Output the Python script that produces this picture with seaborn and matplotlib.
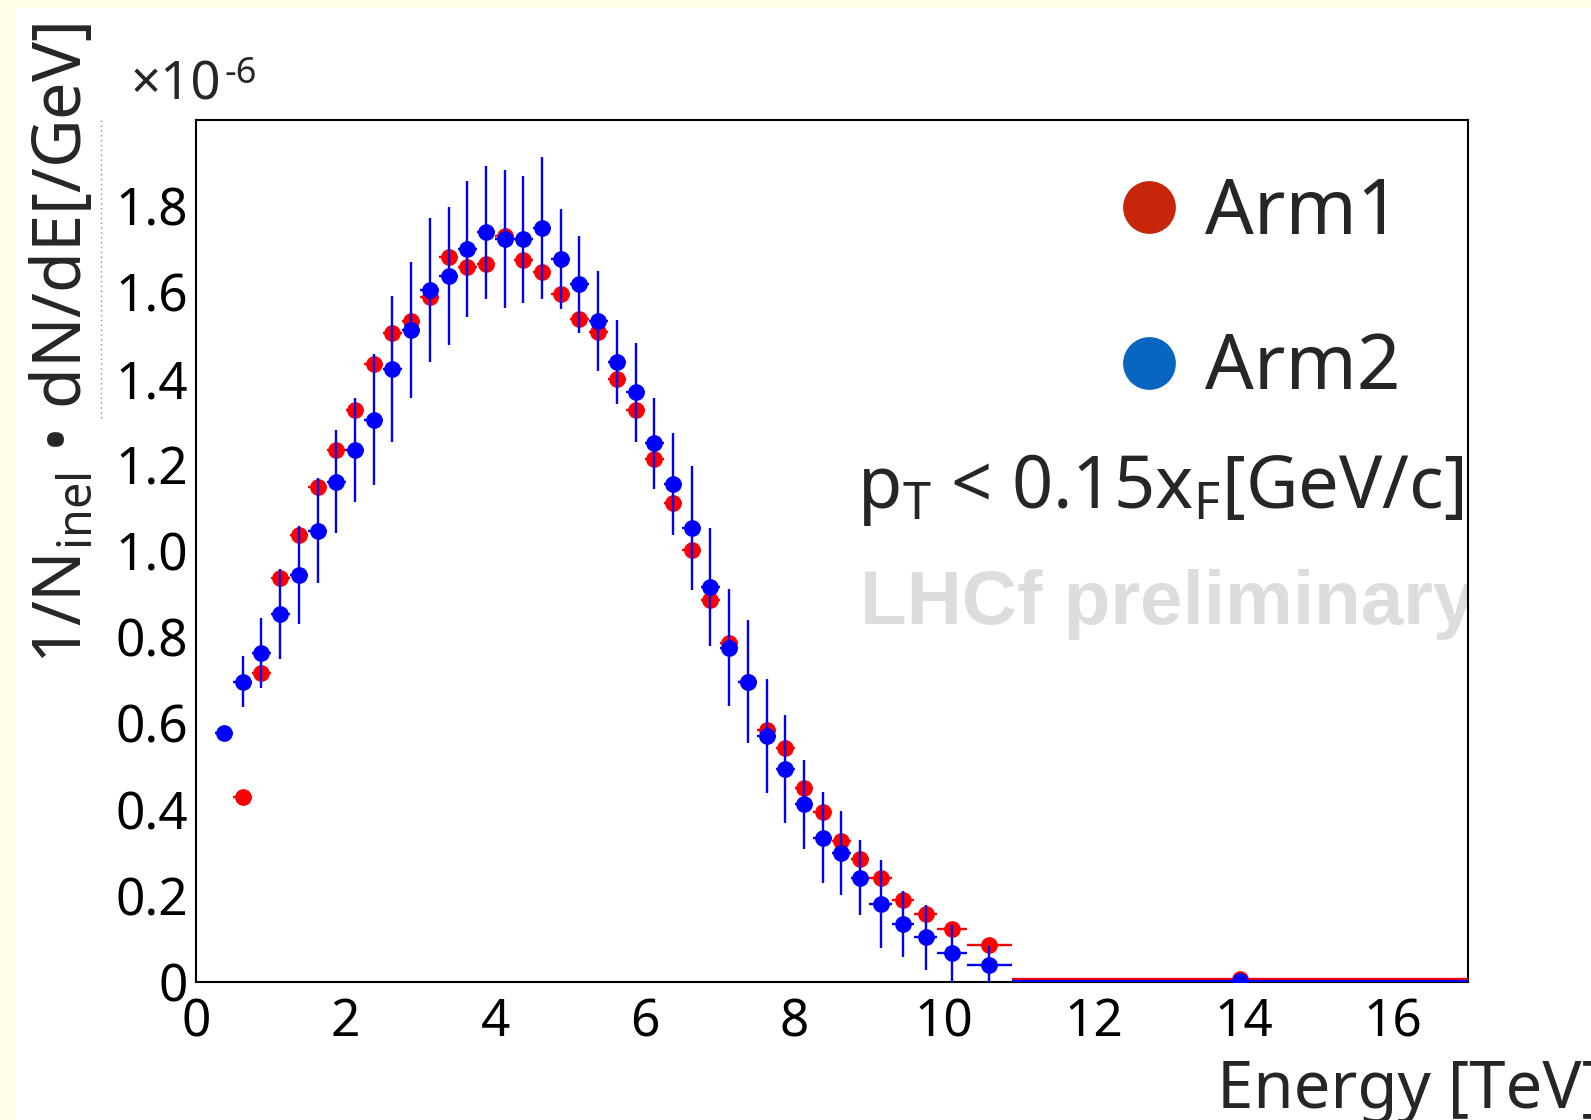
from __future__ import annotations

import matplotlib

matplotlib.use("Agg")

import matplotlib.pyplot as plt
import pandas as pd
import seaborn as sns
from matplotlib.lines import Line2D
from matplotlib.patches import Rectangle
from matplotlib.ticker import FixedLocator, FuncFormatter, MultipleLocator

# Bin edges [TeV], shared by both arms (Arm1 starts one bin later)
BIN_EDGES = [
    0.25, 0.5, 0.75, 1.0, 1.25, 1.5, 1.75, 2.0, 2.25, 2.5, 2.75, 3.0,
    3.25, 3.5, 3.75, 4.0, 4.25, 4.5, 4.75, 5.0, 5.25, 5.5, 5.75, 6.0,
    6.25, 6.5, 6.75, 7.0, 7.25, 7.5, 7.75, 8.0, 8.25, 8.5, 8.75, 9.0,
    9.3, 9.6, 9.9, 10.3, 10.9, 17.0,
]

# 1/N_inel dN/dE in units of 1e-6 /GeV
ARM1_VALUES = [
    0.429, 0.717, 0.937, 1.036, 1.149, 1.235, 1.328, 1.435, 1.506, 1.534,
    1.590, 1.681, 1.660, 1.667, 1.731, 1.675, 1.648, 1.596, 1.538, 1.507,
    1.399, 1.327, 1.213, 1.112, 1.002, 0.886, 0.786, 0.695, 0.585, 0.542,
    0.451, 0.394, 0.327, 0.285, 0.241, 0.190, 0.157, 0.122, 0.086, 0.008,
]
ARM1_ERRORS = [0.01] * 39 + [0.0]

ARM2_VALUES = [
    0.578, 0.697, 0.763, 0.854, 0.944, 1.047, 1.161, 1.234, 1.305, 1.423,
    1.513, 1.606, 1.638, 1.701, 1.739, 1.723, 1.723, 1.749, 1.677, 1.619,
    1.534, 1.439, 1.368, 1.250, 1.155, 1.054, 0.917, 0.776, 0.697, 0.571,
    0.494, 0.412, 0.335, 0.299, 0.242, 0.181, 0.135, 0.104, 0.067, 0.039,
    0.002,
]
ARM2_ERRORS = [
    0.010, 0.060, 0.081, 0.104, 0.113, 0.122, 0.119, 0.121, 0.152, 0.169,
    0.158, 0.167, 0.160, 0.157, 0.154, 0.160, 0.147, 0.164, 0.116, 0.113,
    0.116, 0.097, 0.115, 0.106, 0.118, 0.144, 0.137, 0.136, 0.143, 0.133,
    0.126, 0.104, 0.106, 0.097, 0.087, 0.102, 0.076, 0.075, 0.066, 0.045,
    0.0,
]

Y_TICKS = [0.0, 0.2, 0.4, 0.6, 0.8, 1.0, 1.2, 1.4, 1.6, 1.8]

W, H = 1591, 1120


def build_frame() -> pd.DataFrame:
    rows = []
    series = [
        ("Arm1", BIN_EDGES[1:], ARM1_VALUES, ARM1_ERRORS),
        ("Arm2", BIN_EDGES, ARM2_VALUES, ARM2_ERRORS),
    ]
    for arm, edges, values, errors in series:
        for lo, hi, value, err in zip(edges[:-1], edges[1:], values, errors):
            rows.append(
                {
                    "arm": arm,
                    "energy": 0.5 * (lo + hi),
                    "xerr": 0.5 * (hi - lo),
                    "value": value,
                    "err": err,
                }
            )
    return pd.DataFrame(rows)


def fx(px: float) -> float:
    return px / W


def fy(py: float) -> float:
    return 1 - py / H


def main() -> None:
    data = build_frame()

    sns.set_theme(style="white")
    plt.rcParams["font.family"] = ["Noto Sans", "DejaVu Sans"]
    plt.rcParams["mathtext.fontset"] = "custom"
    plt.rcParams["mathtext.rm"] = "Noto Sans"

    fig = plt.figure(figsize=(W / 100, H / 100), dpi=100, facecolor="#FFFDE6")
    fig.add_artist(
        Rectangle((fx(16), 0), 1, fy(8), transform=fig.transFigure,
                  facecolor="white", edgecolor="none", zorder=-10)
    )
    fig.add_artist(
        Line2D([fx(101), fx(101)], [fy(120), fy(418)], transform=fig.transFigure,
               color="#8a8a8a", linewidth=1.0, linestyle=(0, (1, 2.5)))
    )

    axis = fig.add_axes([fx(196), fy(982), fx(1468) - fx(196), fy(120) - fy(982)])
    axis.set_facecolor("white")

    colors = {"Arm1": "#FF0000", "Arm2": "#0000FF"}
    for zorder, arm in enumerate(["Arm1", "Arm2"]):
        part = data[data["arm"] == arm]
        axis.errorbar(
            part["energy"], part["value"], xerr=part["xerr"], yerr=part["err"],
            fmt="none", ecolor=colors[arm], elinewidth=1.7, capsize=0,
            zorder=3 + 2 * zorder,
        )
        sns.scatterplot(
            data=part, x="energy", y="value", color=colors[arm], s=145,
            linewidth=0, legend=False, ax=axis, zorder=4 + 2 * zorder,
        )

    axis.set_xlim(0, 17)
    axis.set_ylim(0, 2.0)
    axis.set_xlabel("")
    axis.set_ylabel("")
    axis.xaxis.set_major_locator(MultipleLocator(2))
    axis.xaxis.set_minor_locator(MultipleLocator(0.5))
    axis.yaxis.set_major_locator(FixedLocator(Y_TICKS))
    axis.yaxis.set_minor_locator(MultipleLocator(0.05))
    axis.yaxis.set_major_formatter(
        FuncFormatter(lambda v, _: "0" if abs(v) < 1e-9 else f"{v:.1f}")
    )
    axis.tick_params(which="both", direction="in", top=False, right=False,
                     color="black", width=1.4, labelsize=37, labelcolor="black")
    axis.tick_params(axis="y", which="major", length=27, pad=6)
    axis.tick_params(axis="y", which="minor", length=14)
    axis.tick_params(axis="x", which="major", length=18, pad=11)
    axis.tick_params(axis="x", which="minor", length=9)
    for spine in axis.spines.values():
        spine.set_color("black")
        spine.set_linewidth(1.5)

    # exponent
    fig.text(fx(131), fy(99), "×10", fontsize=38, ha="left", va="baseline")
    fig.text(fx(224), fy(83), "-6", fontsize=26, ha="left", va="baseline")

    fig.text(fx(63), fy(343), r"1/N$_{\mathrm{inel}}$ • dN/dE[/GeV]",
             rotation=90, fontsize=48, ha="center", va="center")
    fig.text(fx(1217), fy(1091), "Energy [TeV]", fontsize=47,
             ha="left", va="center")

    fig.text(fx(857), fy(490), r"p$_{\mathrm{T}}$ < 0.15x$_{\mathrm{F}}$[GeV/c]",
             fontsize=52, ha="left", va="center")
    axis.text((860 - 196) / 1272, (982 - 605) / 862, "LHCf preliminary",
              transform=axis.transAxes, fontsize=55, fontweight="bold",
              family="Liberation Sans", color="#DDDDE0", ha="left",
              va="center", clip_on=True, zorder=1)

    handles = [
        Line2D([], [], marker="o", linestyle="none", markersize=38,
               markerfacecolor="#C8260A", markeredgewidth=0),
        Line2D([], [], marker="o", linestyle="none", markersize=38,
               markerfacecolor="#0866C0", markeredgewidth=0),
    ]
    axis.legend(
        handles, ["Arm1", "Arm2"], loc="upper left",
        bbox_to_anchor=(fx(1122), fy(176)), bbox_transform=fig.transFigure,
        frameon=False, fontsize=55, borderpad=0, handlelength=0.7,
        handletextpad=0.39, labelspacing=1.04, borderaxespad=0,
    )

    fig.savefig("out.png", dpi=100, facecolor=fig.get_facecolor())
    plt.close(fig)


if __name__ == "__main__":
    main()
